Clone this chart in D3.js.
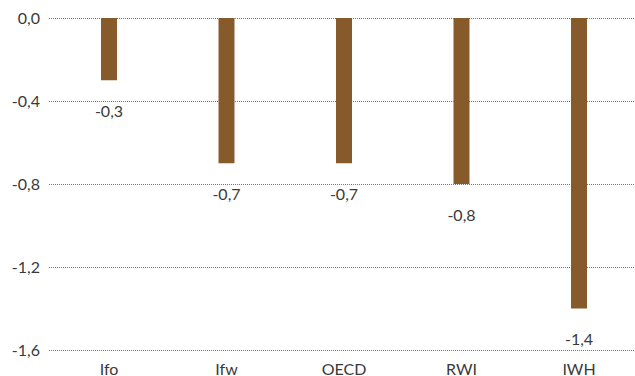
<!DOCTYPE html>
<html>
<head>
<meta charset="utf-8">
<script src="https://cdn.jsdelivr.net/npm/d3@7"></script>
<style>
  body { margin: 0; background: #fff; }
  svg text { font-family: Lato, "Open Sans", sans-serif; fill: #3a3a3a; }
</style>
</head>
<body>
<svg id="chart" width="635" height="376"></svg>
<script>
var categories = ["Ifo", "Ifw", "OECD", "RWI", "IWH"];
var values = [-0.3, -0.7, -0.7, -0.8, -1.4];
var tickValues = [0, -0.4, -0.8, -1.2, -1.6];

var svg = d3.select("#chart"),
    plotLeft = 49, plotRight = 635, plotTop = 18, plotBottom = 350;

var x = d3.scaleBand()
    .domain(categories)
    .range([plotLeft + 2, plotRight + 2])
    .paddingInner(0.864)
    .paddingOuter(0.4255);

var y = d3.scaleLinear()
    .domain([0, -1.6])
    .range([plotTop, plotBottom]);

var fmt = function (d) { return d3.format(".1f")(d).replace(".", ",").replace("−", "-"); };

// gridlines
svg.append("g").selectAll("line")
    .data(tickValues)
    .enter().append("line")
    .attr("x1", plotLeft).attr("x2", plotRight)
    .attr("y1", function (d) { return Math.round(y(d)) + 0.5; })
    .attr("y2", function (d) { return Math.round(y(d)) + 0.5; })
    .attr("stroke", "#777")
    .attr("stroke-width", 1)
    .attr("stroke-dasharray", "1,1");

// y tick labels
svg.append("g").selectAll("text")
    .data(tickValues)
    .enter().append("text")
    .attr("x", 40)
    .attr("y", function (d) { return y(d); })
    .attr("dy", "0.35em")
    .attr("text-anchor", "end")
    .style("font-size", "16px")
    .text(fmt);

// bars
svg.append("g").selectAll("rect")
    .data(values)
    .enter().append("rect")
    .attr("x", function (d, i) { return x(categories[i]); })
    .attr("y", y(0))
    .attr("width", x.bandwidth())
    .attr("height", function (d) { return y(d) - y(0); })
    .attr("fill", "#875a2c");

// value labels
svg.append("g").selectAll("text")
    .data(values)
    .enter().append("text")
    .attr("x", function (d, i) { return x(categories[i]) + x.bandwidth() / 2; })
    .attr("y", function (d) { return y(d) + 31; })
    .attr("dy", "0.35em")
    .attr("text-anchor", "middle")
    .style("font-size", "16px")
    .text(fmt);

// category labels
svg.append("g").selectAll("text")
    .data(categories)
    .enter().append("text")
    .attr("x", function (d) { return x(d) + x.bandwidth() / 2; })
    .attr("y", 369)
    .attr("dy", "0.35em")
    .attr("text-anchor", "middle")
    .style("font-size", "16px")
    .text(function (d) { return d; });
</script>
</body>
</html>
